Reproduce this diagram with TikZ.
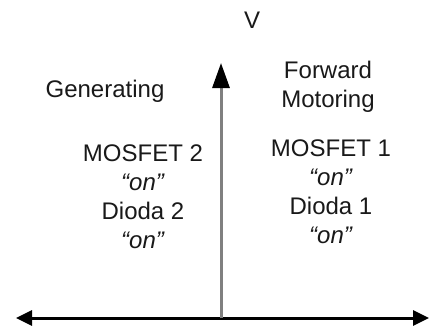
\documentclass[tikz,border=0pt]{standalone}
\usepackage{fontspec}
\setmainfont{Liberation Sans}
\usetikzlibrary{arrows.meta}
\tikzset{
  lbl/.style={inner sep=0pt, align=center, font=\fontsize{24}{29}\selectfont, text=black!90},
  axis/.style={line width=3pt, black},
  vaxis/.style={line width=3pt, black!50},
}
\begin{document}
\begin{tikzpicture}[x=1pt,y=-1pt]
\useasboundingbox (0,0) rectangle (430,325);
\coordinate (L) at (16,318);
\coordinate (R) at (429,318);
\coordinate (O) at (221,318);
\coordinate (T) at (221,63);
\draw[axis, {Triangle[length=16pt,width=15pt]}-{Triangle[length=16pt,width=15pt]}] (L) -- (R);
\draw[vaxis, -{Triangle[length=25pt,width=17pt,color=black]}] (O) -- (T);
\node[lbl, anchor=base] (v) at (252,28) {V};
\node[lbl, anchor=base] (gen) at (105,97) {Generating};
\node[lbl, anchor=base] (fwd) at (328,107) {Forward\\Motoring};
\node[lbl, anchor=base] (m2) at (143,248) {MOSFET 2\\\textit{“on”}\\Dioda 2\\\textit{“on”}};
\node[lbl, anchor=base] (m1) at (331,243) {MOSFET 1\\\textit{“on”}\\Dioda 1\\\textit{“on”}};
\end{tikzpicture}
\end{document}
